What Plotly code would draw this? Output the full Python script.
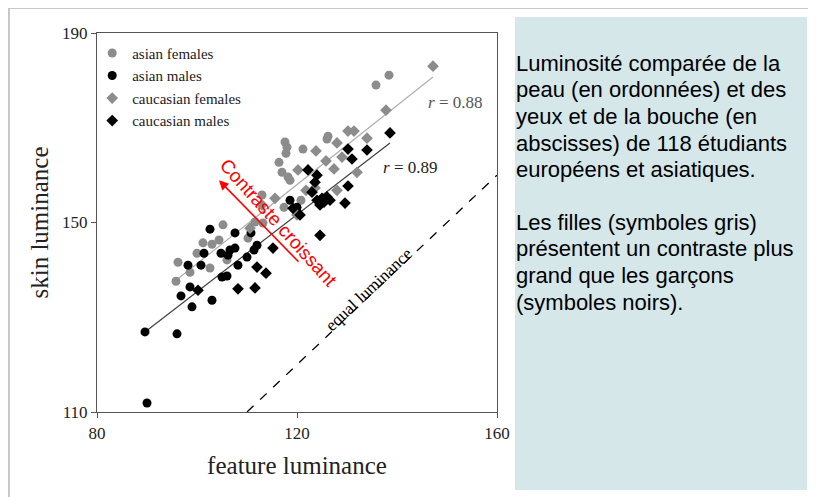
import plotly.graph_objects as go

# ---------------- data ----------------
asian_females_x = [138.4, 135.8, 117.6, 118.0, 117.8, 121.2, 116.4, 117.0, 118.2, 118.6, 126.2, 126.0,
                   120.8, 117.4, 113.0, 105.2, 101.2, 103.0, 104.4, 100.0, 96.2, 98.6, 102.6, 95.8,
                   106.0, 110.2, 111.6, 113.2]
asian_females_y = [181.1, 179.0, 167.0, 165.9, 164.6, 165.5, 162.7, 160.6, 159.6, 158.9, 168.2, 167.6,
                   154.7, 153.2, 155.8, 149.5, 145.7, 145.4, 146.3, 143.5, 141.6, 139.5, 140.4, 137.6,
                   142.1, 146.7, 150.1, 149.9]

asian_males_x = [90.0, 89.6, 96.0, 99.0, 102.6, 107.6, 110.8, 101.4, 100.8, 98.2, 104.8, 106.6, 107.6,
                 106.2, 110.0, 108.2, 105.0, 106.0, 98.6, 96.8, 103.0, 112.0, 111.4, 118.6, 120.0]
asian_males_y = [111.9, 126.9, 126.5, 132.2, 148.6, 147.8, 147.8, 143.5, 141.0, 141.0, 143.5, 144.2, 144.6,
                 143.1, 142.7, 141.0, 138.5, 138.7, 136.4, 134.5, 133.6, 145.2, 144.2, 154.7, 153.2]

caucasian_females_x = [147.2, 137.8, 130.2, 131.4, 134.0, 128.0, 123.8, 129.0, 120.2, 125.8, 127.4, 132.0,
                       128.0, 121.8, 113.0, 115.6, 110.6, 120.0, 123.6]
caucasian_females_y = [183.0, 173.7, 169.3, 169.3, 167.8, 166.8, 165.1, 163.8, 161.1, 163.0, 161.3, 160.6,
                       156.8, 156.8, 153.7, 155.1, 148.8, 151.6, 157.3]

caucasian_males_x = [138.6, 130.2, 134.0, 131.0, 122.2, 124.0, 123.6, 130.2, 126.0, 125.0, 124.6, 126.6,
                     124.0, 129.6, 120.6, 124.6, 108.2, 111.6, 112.0, 113.8, 115.2, 100.2, 119.2, 125.4, 123.0]
caucasian_males_y = [168.9, 165.5, 165.3, 163.4, 161.1, 160.0, 158.5, 157.7, 155.4, 155.1, 153.7, 154.7,
                     154.7, 154.1, 151.6, 147.3, 136.0, 136.2, 140.6, 139.3, 144.6, 135.7, 153.0, 154.3, 156.4]

# regression lines (end points)
females_fit_x = [95.8, 147.2]
females_fit_y = [137.8, 180.7]
males_fit_x = [89.6, 138.6]
males_fit_y = [126.9, 166.8]
equal_x = [110, 160]
equal_y = [110, 160]

x_ticks = [80, 120, 160]
y_ticks = [110, 150, 190]

panel_lines_1 = ["Luminosité comparée de la", "peau (en ordonnées) et des", "yeux et de la bouche (en",
                 "abscisses) de 118 étudiants", "européens et asiatiques."]
panel_lines_2 = ["Les filles (symboles gris)", "présentent un contraste plus", "grand que les garçons",
                 "(symboles noirs)."]

# ---------------- figure ----------------
OFF = 8  # page body margin: the figure starts 8 px into the window
W, H = 816 - OFF, 497 - OFF
# plot-area box in reference (window) pixels
L, R, T, B = 97, 497, 33, 412


def px(xp):
    return (xp - L) / (R - L)


def py(yp):
    return (B - yp) / (B - T)


SERIF = "Liberation Serif, Times New Roman, serif"
SANS = "Liberation Sans, Arial, sans-serif"
GRAY = "#8c8c8c"

fig = go.Figure()

fig.add_trace(go.Scatter(x=females_fit_x, y=females_fit_y, mode="lines",
                         line=dict(color="#b0b0b0", width=1.2), showlegend=False, hoverinfo="skip"))
fig.add_trace(go.Scatter(x=males_fit_x, y=males_fit_y, mode="lines",
                         line=dict(color="#404040", width=1.2), showlegend=False, hoverinfo="skip"))
fig.add_trace(go.Scatter(x=equal_x, y=equal_y, mode="lines",
                         line=dict(color="black", width=1.3, dash="dash"), showlegend=False, hoverinfo="skip"))

fig.add_trace(go.Scatter(x=asian_females_x, y=asian_females_y, mode="markers", name="asian females",
                         marker=dict(symbol="circle", size=9, color=GRAY)))
fig.add_trace(go.Scatter(x=asian_males_x, y=asian_males_y, mode="markers", name="asian males",
                         marker=dict(symbol="circle", size=9, color="black")))
fig.add_trace(go.Scatter(x=caucasian_females_x, y=caucasian_females_y, mode="markers", name="caucasian females",
                         marker=dict(symbol="diamond", size=9, color=GRAY)))
fig.add_trace(go.Scatter(x=caucasian_males_x, y=caucasian_males_y, mode="markers", name="caucasian males",
                         marker=dict(symbol="diamond", size=9, color="black")))

annotations = []
# r values
annotations.append(dict(x=151.6, y=175.4, xref="x", yref="y", text="<i>r</i> = 0.88", showarrow=False,
                        font=dict(family=SERIF, size=17, color="#555555")))
annotations.append(dict(x=142.6, y=161.7, xref="x", yref="y", text="<i>r</i> = 0.89", showarrow=False,
                        font=dict(family=SERIF, size=17, color="#222222")))
# equal luminance label
annotations.append(dict(x=134.4, y=135.8, xref="x", yref="y", text="equal luminance", showarrow=False,
                        textangle=-43.5, font=dict(family=SERIF, size=17, color="black")))
# red arrow
annotations.append(dict(x=104.4, y=158.9, ax=120.6, ay=141.4, xref="x", yref="y", axref="x", ayref="y",
                        text="", showarrow=True, arrowhead=2, arrowsize=1.2, arrowwidth=1.6, arrowcolor="red"))
annotations.append(dict(x=116.2, y=149.9, xref="x", yref="y", text="Contraste croissant", showarrow=False,
                        textangle=48, font=dict(family=SANS, size=19, color="red")))

# side panel text
for i, t in enumerate(panel_lines_1):
    annotations.append(dict(x=px(514), y=py(63 + i * 26.7), xref="paper", yref="paper", text=t,
                            showarrow=False, xanchor="left", yanchor="middle",
                            font=dict(family=SANS, size=22, color="black")))
for i, t in enumerate(panel_lines_2):
    annotations.append(dict(x=px(514), y=py(222 + i * 26.7), xref="paper", yref="paper", text=t,
                            showarrow=False, xanchor="left", yanchor="middle",
                            font=dict(family=SANS, size=22, color="black")))

shapes = [
    # light blue panel
    dict(type="rect", xref="paper", yref="paper", x0=px(515), x1=px(807), y0=py(490), y1=py(17),
         fillcolor="#d6e7ea", line=dict(width=0), layer="below"),
    # outer frame
    dict(type="line", xref="paper", yref="paper", x0=px(9), x1=px(810), y0=py(8), y1=py(8),
         line=dict(color="#c8c8c8", width=2)),
    dict(type="line", xref="paper", yref="paper", x0=px(9), x1=px(9), y0=py(8), y1=py(497),
         line=dict(color="#c8c8c8", width=2)),
    dict(type="line", xref="paper", yref="paper", x0=px(810), x1=px(810), y0=py(8), y1=py(497),
         line=dict(color="#c8c8c8", width=2)),
]

fig.update_layout(
    width=W, height=H,
    margin=dict(l=L - OFF, r=816 - R, t=T - OFF, b=497 - B, pad=0),
    paper_bgcolor="white", plot_bgcolor="white",
    showlegend=True,
    legend=dict(x=-0.012, y=0.99, xanchor="left", yanchor="top", bgcolor="rgba(0,0,0,0)",
                font=dict(family=SERIF, size=15, color="#222222"), itemwidth=30,
                tracegroupgap=0),
    annotations=annotations,
    shapes=shapes,
)
fig.update_xaxes(range=[80, 160], tickvals=x_ticks, ticks="outside", ticklen=5, tickcolor="#555555",
                 showline=True, linecolor="#555555", linewidth=1.2, mirror=True, showgrid=False, zeroline=False,
                 tickfont=dict(family=SERIF, size=17, color="#222222"),
                 title=dict(text="feature luminance", font=dict(family=SERIF, size=25, color="#222222"), standoff=14))
fig.update_yaxes(range=[110, 190], tickvals=y_ticks, ticks="outside", ticklen=5, tickcolor="#555555",
                 showline=True, linecolor="#555555", linewidth=1.2, mirror=True, showgrid=False, zeroline=False,
                 tickfont=dict(family=SERIF, size=17, color="#222222"),
                 title=dict(text="skin luminance", font=dict(family=SERIF, size=25, color="#222222"), standoff=6))

fig.write_html("out.html")
